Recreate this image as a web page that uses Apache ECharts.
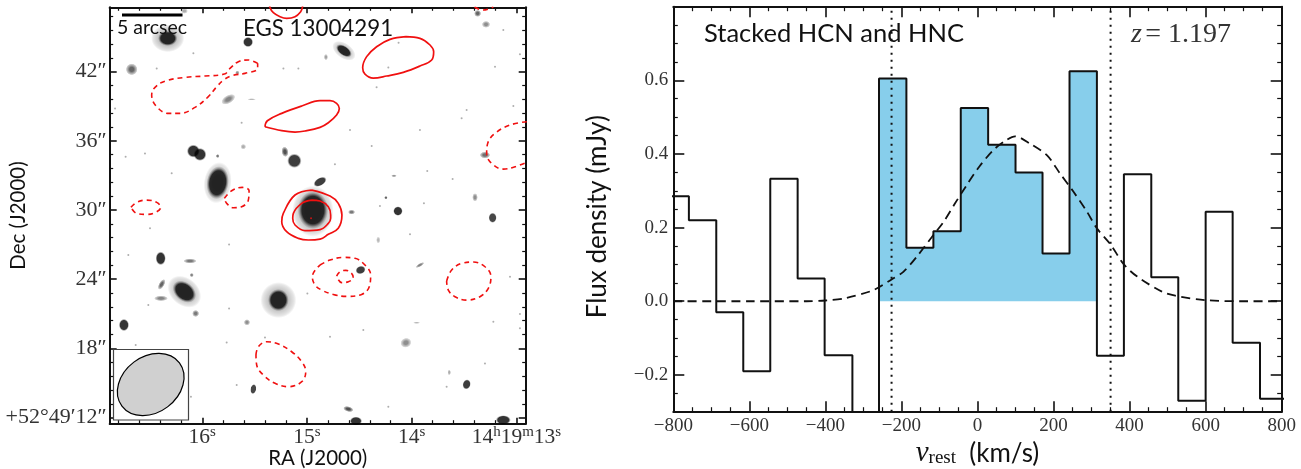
<!DOCTYPE html>
<html>
<head>
<meta charset="utf-8">
<style>html,body{margin:0;padding:0;background:#fff}#chart{width:1301px;height:469px}</style>
<script src="https://cdn.jsdelivr.net/npm/echarts@6/dist/echarts.min.js"></script>
</head>
<body>
<div id="chart"></div>
<script>
// ---------- spectrum panel data ----------
const binEdges = [-830,-759,-687,-616,-545,-473,-402,-329,-259,-187,-116,-44,28,100,171,242,314,385,457,528,600,671,743,830];
const binFlux = [0.285,0.22,-0.03,-0.19,0.333,0.062,-0.147,-0.45,0.605,0.145,0.19,0.525,0.425,0.35,0.13,0.625,-0.148,0.345,0.065,-0.27,0.243,-0.113,-0.265];
const fillFirstBin = 8, fillLastBin = 15;
const fitVelocity = [-800,-600,-450,-400,-350,-274,-225,-195,-159,-116,-89,-59,-28,5,42,75,99,138,183,217,252,288,314,350,385,420,485,520,600,700,800];
const fitFlux = [0,0,0,0.002,0.008,0.03,0.06,0.08,0.122,0.18,0.216,0.266,0.316,0.366,0.411,0.437,0.448,0.428,0.396,0.347,0.298,0.243,0.198,0.154,0.1,0.067,0.026,0.015,0.003,0,0];
const windowLines = [-226,350];
const velTicks = [-800,-600,-400,-200,0,200,400,600,800];
const velMinor = [-750,-700,-650,-550,-500,-450,-350,-300,-250,-150,-100,-50,50,100,150,250,300,350,450,500,550,650,700,750];
const fluxTicks = [-0.2,0,0.2,0.4,0.6];
const fluxMinor = [-0.25,-0.15,-0.1,-0.05,0.05,0.1,0.15,0.25,0.3,0.35,0.45,0.5,0.55,0.65,0.7,0.75];
// ---------- sky panel axes ----------
const raTicks = [16,15,14,13];
const raTickLabels = ['{n|16}{u|s}','{n|15}{u|s}','{n|14}{u|s}','{n|14}{u|h}{n|19}{u|m}{n|13}{u|s}'];
const raMinor = [16.8,16.6,16.4,16.2,15.8,15.6,15.4,15.2,14.8,14.6,14.4,14.2,13.8,13.6,13.4,13.2];
const decTicks = [12,18,24,30,36,42];
const decTickLabels = ['+52°49′12″','18″','24″','30″','36″','42″'];
const decMinor = [13.2,14.4,15.6,16.8,19.2,20.4,21.6,22.8,25.2,26.4,27.6,28.8,31.2,32.4,33.6,34.8,37.2,38.4,39.6,40.8,43.2,44.4,45.6,46.8];
// ---------- radio contours [RA seconds, Dec arcsec] ----------
const contourTop = [[15.36,48.1],[15.353,47.57],[15.321,47.11],[15.257,46.76],[15.194,46.62],[15.114,46.76],[15.060,47.20],[15.044,47.57],[15.04,48.1]];
const contourUpperRight = [[14.055,45.03],[13.921,44.89],[13.825,44.31],[13.790,43.73],[13.809,43.01],[13.921,42.49],[14.080,41.94],[14.239,41.62],[14.367,41.44],[14.446,41.79],[14.468,42.34],[14.430,43.30],[14.335,44.16],[14.207,44.80],[14.055,45.03]];
const contourMiddle = [[15.401,37.22],[15.378,37.74],[15.241,38.38],[15.050,39.02],[14.875,39.48],[14.780,39.48],[14.717,39.25],[14.691,38.81],[14.717,38.24],[14.796,37.57],[14.875,37.17],[15.019,36.85],[15.114,36.76],[15.241,36.88],[15.401,37.22]];
const contourCoreOuter = [[14.955,31.73],[14.780,31.21],[14.701,30.58],[14.666,29.56],[14.701,28.41],[14.796,27.89],[14.875,27.48],[14.987,27.40],[15.082,27.54],[15.194,28.12],[15.241,28.99],[15.226,29.71],[15.114,31.30],[14.955,31.73]];
const contourCoreInner = [[14.955,30.86],[14.876,30.78],[14.796,30.29],[14.774,29.56],[14.774,29.28],[14.796,28.84],[14.875,28.3],[15.019,28.21],[15.114,28.70],[15.136,29.28],[15.130,29.71],[15.050,30.58],[14.955,30.86]];
const negDumbbell = [[15.471,42.72],[15.560,43.01],[15.655,42.86],[15.735,42.28],[15.789,41.79],[15.974,41.62],[16.165,41.50],[16.356,41.18],[16.451,40.64],[16.483,39.97],[16.435,38.96],[16.324,38.38],[16.213,38.38],[16.069,38.90],[15.942,39.83],[15.862,40.69],[15.789,41.33],[15.703,41.68],[15.592,41.85],[15.471,42.28],[15.471,42.72]];
const negEdge = [[12.90,37.66],[13.061,37.37],[13.204,36.65],[13.274,35.78],[13.284,34.91],[13.236,34.04],[13.125,33.55],[13.013,33.75],[12.90,34.15]];
const negTopEdge = [[13.40,47.6],[13.316,47.34],[13.22,47.6]];
const negLeftSmall = [[16.681,30.23],[16.627,30.66],[16.531,30.86],[16.435,30.66],[16.397,30.23],[16.435,29.85],[16.531,29.62],[16.627,29.71],[16.681,30.23]];
const negLeftMid = [[15.789,31.01],[15.719,31.67],[15.617,31.96],[15.553,31.67],[15.560,30.86],[15.624,30.29],[15.703,30.20],[15.767,30.58],[15.789,31.01]];
const negCentralOuter = [[14.876,25.23],[14.780,25.66],[14.653,25.89],[14.542,25.81],[14.446,25.23],[14.392,24.36],[14.405,23.35],[14.478,22.68],[14.621,22.51],[14.749,22.68],[14.860,23.06],[14.923,23.50],[14.949,24.22],[14.876,25.23]];
const negCentralInner = [[14.717,24.27],[14.685,24.65],[14.628,24.77],[14.574,24.51],[14.558,24.13],[14.605,23.78],[14.669,23.70],[14.717,24.27]];
const negRight = [[13.666,23.84],[13.618,24.80],[13.523,25.37],[13.411,25.49],[13.300,25.08],[13.243,24.22],[13.268,23.21],[13.348,22.48],[13.475,22.19],[13.586,22.48],[13.650,23.06],[13.666,23.84]];
const negLower = [[15.487,17.42],[15.464,18.15],[15.385,18.58],[15.273,18.38],[15.146,17.71],[15.050,16.85],[15.012,15.98],[15.050,15.11],[15.178,14.68],[15.305,14.97],[15.417,15.69],[15.480,16.56],[15.487,17.42]];
const solidContours = [contourTop,contourUpperRight,contourMiddle,contourCoreOuter,contourCoreInner];
const dashedContours = [negDumbbell,negEdge,negTopEdge,negLeftSmall,negLeftMid,negCentralOuter,negCentralInner,negRight,negLower];
// ---------- galaxies: position, extent (arcsec), angle, peak darkness ----------
const galaxyRa   = [16.33,16.33,15.563,16.674,15.751,16.085,16.022,15.21,15.12,15.853,15.853,15.853,14.943,14.943,14.875,14.647,14.647,14.819,13.37,13.29,13.3,13.395,14.131,14.246,14.574,14.169,13.227,16.397,16.117,16.171,16.171,16.388,16.394,16.063,16.748,15.273,15.273,15.573,15.512,16.101,14.605,14.532,14.488,13.921,14.055,13.475,13.125,14.319,13.641,13.953,15.665,15.528,15.608,16.171];
const galaxyDec  = [44.89,44.89,44.57,42.2,39.6,35.11,34.82,35.05,34.27,32.37,32.37,34.68,29.9,30.0,32.45,43.81,43.81,43.26,47.05,46.1,34.77,31.1,29.91,31.07,29.82,32.97,29.33,25.81,25.58,22.92,22.92,23.55,22.34,21.03,20.03,22.19,22.19,20.26,14.47,24.36,12.74,11.7,24.8,25.23,18.49,14.88,11.79,27.4,15.92,20.22,41.91,39.6,35.49,47.26];
const galaxyMajor= [2.4,1.4,0.75,0.85,1.1,0.95,0.95,0.5,1.05,2.0,1.6,0.28,3.0,2.2,1.05,1.9,1.3,0.3,0.5,0.6,0.75,0.4,0.7,0.25,0.5,0.4,0.6,0.75,0.95,2.7,1.9,0.85,1.0,0.5,0.75,2.6,1.5,0.45,0.45,0.3,0.75,0.9,0.75,0.7,0.8,0.6,1.1,0.3,0.25,0.5,0.3,0.6,0.4,0.5];
const galaxyMinor= [2.0,1.1,0.75,0.85,0.6,0.95,0.95,0.75,1.05,3.0,2.4,0.28,3.7,2.75,0.6,1.1,0.7,0.45,0.5,0.5,0.5,0.6,0.7,0.25,0.35,0.2,0.75,1.0,0.35,2.0,1.35,0.4,0.4,0.5,0.9,2.6,1.6,0.45,0.75,0.3,0.4,0.65,0.6,0.25,0.7,0.75,0.7,0.5,0.4,0.15,0.3,0.15,0.4,0.4];
const galaxyAngle= [0,0,0,0,30,0,0,10,0,-8,-8,0,0,0,30,-35,-35,0,0,0,0,0,0,0,0,0,0,0,0,-40,-40,60,0,0,0,0,0,0,-10,0,-15,0,20,30,20,-15,0,0,0,0,0,0,0,0];
const galaxyPeak = [0.4,1,1,0.75,0.6,1,1,0.85,0.95,0.4,1,0.65,0.45,1,0.95,0.35,1,0.45,0.75,0.55,0.7,0.55,1,0.75,0.65,0.5,0.9,1,0.65,0.4,1,0.75,0.6,0.65,1,0.4,1,0.55,0.9,0.6,0.85,1,0.95,0.6,0.55,0.95,1,0.35,0.4,0.35,0.55,0.35,0.4,0.4];
const speckRa  = [14.223,14.125,13.475,13.523,13.029,13.204,12.966,14.589,14.382,13.921,14.733,13.851,13.609,13.883,14.303,13.125,14.335,16.435,16.085,16.732,15.082,16.292,15.624,15.225,16.833,16.547,16.499,16.706,15.744,16.515,15.744,16.636,15.767,15.671,15.401,14.996,16.108,14.78,14.462,14.223,13.3,13.666,12.966,12.966,14.016,13.22,13.061];
const speckDec = [42.37,44.51,38.67,37.95,39.02,42.43,43.5,36.94,35.55,36.94,33.96,33.38,32.69,30.58,30.34,45.61,40.64,42.28,43.59,34.62,42.28,33.18,37.57,42.28,38.81,34.91,28.41,26.1,27.02,21.76,21.47,18.29,18.52,14.82,18.95,22.77,13.81,19.01,19.59,12.94,16.7,14.68,20.98,19.74,27.89,20.31,24.22];
const centreMark = [14.961,29.28];

// ---------- view setup ----------
const SERIF = '"Liberation Serif","DejaVu Serif",serif';
const SANS = 'Lato,"Noto Sans",sans-serif';
const INK = '#111';
const PX_PER_ARCSEC = 11.53;
const RA_RANGE = [12.911,16.884], DEC_RANGE = [11.47,47.58], V_RANGE = [-800,800], F_RANGE = [-0.3,0.8];

function axis(base, major, position, ticks, len, extra) {
  return Object.assign({
    type:'value', position, min:base.min, max:base.max, inverse:!!base.inverse, gridIndex:base.grid,
    splitLine:{show:false}, scale:true, nameMoveOverlap:false,
    axisLine:{show:major, onZero:false, lineStyle:{color:INK,width:2}},
    axisTick:{show:true, inside:true, length:len, customValues:ticks, lineStyle:{color:INK,width:major?1.6:1.2}},
    axisLabel:{show:false}
  }, extra||{});
}
const raBase = {min:RA_RANGE[0],max:RA_RANGE[1],inverse:true,grid:0};
const decBase = {min:DEC_RANGE[0],max:DEC_RANGE[1],grid:0};
const vBase = {min:V_RANGE[0],max:V_RANGE[1],grid:1};
const fBase = {min:F_RANGE[0],max:F_RANGE[1],grid:1};

const numRich = {n:{fontFamily:SERIF,fontSize:21.5,color:'#333',lineHeight:24,verticalAlign:'bottom'},u:{fontFamily:SERIF,fontSize:15,color:'#333',lineHeight:24,verticalAlign:'top',padding:[0,0,6,0]}};
const xAxes = [
  axis(raBase,true,'bottom',raTicks,6,{
    name:'RA (J2000)',nameLocation:'middle',nameGap:24,nameTextStyle:{fontFamily:SANS,fontSize:20.5,color:INK},
    axisLabel:{show:true,customValues:raTicks,margin:1,rich:numRich,formatter:v=>raTickLabels[raTicks.indexOf(v)]}}),
  axis(raBase,false,'bottom',raMinor,3.5),
  axis(raBase,true,'top',raTicks,6),
  axis(raBase,false,'top',raMinor,3.5),
  axis(vBase,true,'bottom',velTicks,10.5,{
    name:'{v|v}{s|rest}{t|  (km/s)}',nameLocation:'middle',nameGap:27,
    nameTextStyle:{rich:{v:{fontFamily:SERIF,fontStyle:'italic',fontSize:29,color:INK},s:{fontFamily:SERIF,fontSize:19,color:INK,verticalAlign:'bottom',padding:[9,0,0,0]},t:{fontFamily:SANS,fontSize:26,color:INK}}},
    axisLabel:{show:true,customValues:velTicks,margin:5,fontFamily:SERIF,fontSize:19,color:'#333',formatter:v=>String(v).replace('-','\u2212')}}),
  axis(vBase,false,'bottom',velMinor,4.5),
  axis(vBase,true,'top',velTicks,10.5),
  axis(vBase,false,'top',velMinor,4.5)
];
const yAxes = [
  axis(decBase,true,'left',decTicks,7,{
    name:'Dec (J2000)',nameLocation:'middle',nameGap:81,nameRotate:90,nameTextStyle:{fontFamily:SANS,fontSize:20.5,color:INK},
    axisLabel:{show:true,customValues:decTicks,margin:3,fontFamily:SERIF,fontSize:22,color:'#333',formatter:v=>decTickLabels[decTicks.indexOf(v)]}}),
  axis(decBase,false,'left',decMinor,3.5),
  axis(decBase,true,'right',decTicks,7),
  axis(decBase,false,'right',decMinor,3.5),
  axis(fBase,true,'left',fluxTicks,11,{
    name:'Flux density (mJy)',nameLocation:'middle',nameGap:63,nameRotate:90,nameTextStyle:{fontFamily:SANS,fontSize:26,color:INK,padding:[0,15,0,0]},
    axisLabel:{show:true,customValues:fluxTicks,margin:5,fontFamily:SERIF,fontSize:19,color:'#333',formatter:v=>v.toFixed(1).replace('-','\u2212')}}),
  axis(fBase,false,'left',fluxMinor,4.5),
  axis(fBase,true,'right',fluxTicks,11),
  axis(fBase,false,'right',fluxMinor,4.5)
];

function stepPoints(first,last){
  const p=[];
  for(let i=first;i<=last;i++){p.push([binEdges[i],binFlux[i]]);p.push([binEdges[i+1],binFlux[i]]);}
  return p;
}
function galaxyItem(i){
  const peak=galaxyPeak[i], core=peak>=0.9?0.72:0.35;
  return {
    value:[galaxyRa[i],galaxyDec[i]],
    symbolSize:[galaxyMajor[i]*PX_PER_ARCSEC*1.2,galaxyMinor[i]*PX_PER_ARCSEC*1.2],
    symbolRotate:galaxyAngle[i],
    itemStyle:{color:{type:'radial',x:0.5,y:0.5,r:0.5,colorStops:[
      {offset:0,color:'rgba(0,0,0,'+peak+')'},
      {offset:core,color:'rgba(0,0,0,'+peak+')'},
      {offset:0.88,color:'rgba(0,0,0,'+(peak*0.3)+')'},
      {offset:1,color:'rgba(0,0,0,0)'}]}}
  };
}
const series = [];
series.push({type:'scatter',xAxisIndex:0,yAxisIndex:0,silent:true,symbol:'circle',symbolSize:2,z:2,clip:true,
  itemStyle:{color:'#9a9a9a'},data:speckRa.map((r,i)=>[r,speckDec[i]])});
series.push({type:'scatter',xAxisIndex:0,yAxisIndex:0,silent:true,symbol:'circle',z:3,clip:true,
  data:galaxyRa.map((r,i)=>galaxyItem(i))});
solidContours.forEach(c=>series.push({type:'line',xAxisIndex:0,yAxisIndex:0,data:c,smooth:0.4,showSymbol:false,silent:true,z:4,clip:true,
  lineStyle:{color:'#f01010',width:1.7}}));
dashedContours.forEach(c=>series.push({type:'line',xAxisIndex:0,yAxisIndex:0,data:c,smooth:0.4,showSymbol:false,silent:true,z:4,clip:true,
  lineStyle:{color:'#f01010',width:1.6,type:[5,4]}}));
series.push({type:'scatter',xAxisIndex:0,yAxisIndex:0,silent:true,symbolSize:2,z:5,itemStyle:{color:'#f01010'},data:[centreMark]});
// spectrum
series.push({type:'line',xAxisIndex:4,yAxisIndex:4,data:stepPoints(fillFirstBin,fillLastBin),showSymbol:false,silent:true,z:2,
  lineStyle:{width:0},areaStyle:{color:'#87ceeb',opacity:1,origin:0}});
series.push({type:'line',xAxisIndex:4,yAxisIndex:4,data:stepPoints(0,binFlux.length-1),showSymbol:false,silent:true,z:3,clip:true,
  lineStyle:{color:INK,width:2}});
series.push({type:'line',xAxisIndex:4,yAxisIndex:4,data:fitVelocity.map((v,i)=>[v,fitFlux[i]]),smooth:0.3,showSymbol:false,silent:true,z:4,
  lineStyle:{color:INK,width:1.8,type:[9,5.5]}});
windowLines.forEach(v=>series.push({type:'line',xAxisIndex:4,yAxisIndex:4,data:[[v,F_RANGE[0]],[v,F_RANGE[1]]],showSymbol:false,silent:true,z:5,
  lineStyle:{color:INK,width:2,type:[2,5]}}));

const option = {
  animation:false,
  backgroundColor:'#fff',
  grid:[
    {left:109.7,top:7.3,width:416,height:416.4,containLabel:false,outerBoundsMode:'none'},
    {left:673.3,top:6.7,width:608.4,height:405,containLabel:false,outerBoundsMode:'none'}
  ],
  xAxis:xAxes,
  yAxis:yAxes,
  series:series,
  graphic:{elements:[
    {type:'rect',z:50,shape:{x:122,y:13.5,width:60.5,height:3},style:{fill:'#000'}},
    {type:'text',z:50,left:117,top:18,style:{text:'5 arcsec',fontFamily:SANS,fontSize:19.5,fill:INK}},
    {type:'text',z:50,left:243,top:18,style:{text:'EGS 13004291',fontFamily:SANS,fontSize:22.3,fill:INK}},
    {type:'rect',z:50,shape:{x:113.5,y:349.5,width:75,height:70.5},style:{fill:'#fff',stroke:'#444',lineWidth:1.2}},
    {type:'ellipse',z:51,x:150.7,y:384.5,rotation:37*Math.PI/180,shape:{cx:0,cy:0,rx:36,ry:28},style:{fill:'#d0d0d0',stroke:'#000',lineWidth:1.2}},
    {type:'text',z:50,left:704,top:21,style:{text:'Stacked HCN and HNC',fontFamily:SANS,fontSize:25.5,fill:INK}},
    {type:'text',z:50,left:1131,top:21,style:{text:'{z|z} {t|= 1.197}',rich:{z:{fontFamily:SERIF,fontStyle:'italic',fontSize:28,fill:'#333'},t:{fontFamily:SERIF,fontSize:28,fill:'#333'}}}}
  ]}
};
const chart = echarts.init(document.getElementById('chart'),null,{renderer:'canvas',width:1301,height:469});
chart.setOption(option);
</script>
</body>
</html>
